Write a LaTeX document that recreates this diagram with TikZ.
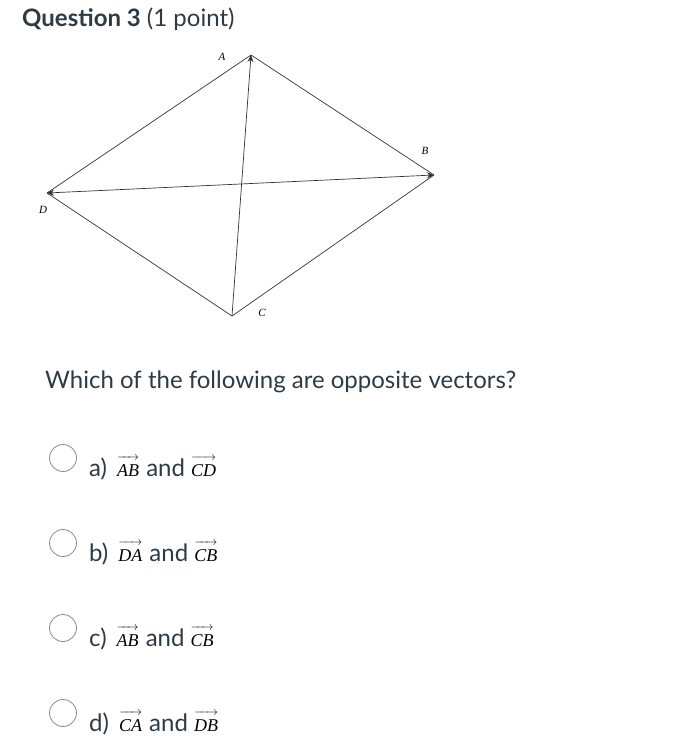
\documentclass[tikz,border=0pt]{standalone}
\usepackage{fontspec}
\setmainfont{Lato}
\newfontfamily\serifit{Liberation Serif}
\usetikzlibrary{arrows.meta}
\definecolor{ink}{HTML}{2D3B45}
\definecolor{ring}{HTML}{8A8A8A}
\tikzset{
  edge/.style={line width=0.7pt, draw=black!80},
  tip/.style={-{Stealth[length=7pt,width=6pt]}},
  vlab/.style={font=\serifit\itshape\fontsize{11}{11}\selectfont, inner sep=0pt},
  radio/.style={circle, draw=ring, line width=0.8pt, minimum size=27pt, inner sep=0pt, fill=white},
  opt/.style={anchor=base west, inner sep=0pt, text=ink, font=\fontsize{24}{28}\selectfont},
}
\newsavebox\vecbox
\newcommand{\vecv}[1]{\sbox\vecbox{\fontsize{18}{18}\selectfont\serifit\itshape\color{black}#1}%
  \vbox{\offinterlineskip\hbox to\wd\vecbox{\fontsize{13}{13}\selectfont\color{black}\rightarrowfill}\kern4pt\box\vecbox}}
\newcommand{\andv}{\hspace{1pt} and \hspace{0pt}}
\begin{document}
\begin{tikzpicture}[x=1pt,y=-1pt]
\useasboundingbox (0,0) rectangle (693,750);
% title
\node[anchor=base west, inner sep=0pt, text=ink, font=\fontsize{24}{28}\selectfont] (title) at (22,26) {\textbf{Question 3} (1 point)};
% diagram
\coordinate (A) at (251,55);
\coordinate (B) at (434,175);
\coordinate (C) at (232,316);
\coordinate (D) at (47,193);
\draw[edge] (A) -- (B);
\draw[edge] (B) -- (C);
\draw[edge] (C) -- (D);
\draw[edge] (D) -- (A);
\draw[edge, tip] (C) -- (A);
\draw[edge, {Stealth[length=7pt,width=6pt]}-{Stealth[length=7pt,width=6pt]}] (D) -- (B);
\node[vlab] (la) at (222,57) {A};
\node[vlab] (lb) at (425,151) {B};
\node[vlab] (lc) at (262,313) {C};
\node[vlab] (ld) at (43,210) {D};
% question
\node[opt] (q) at (45,388) {Which of the following are opposite vectors?};
% options
\node[radio] (ra) at (63,458) {};
\node[opt] (oa) at (89,476) {a)\hspace{10pt}\vecv{AB}\andv\vecv{CD}};
\node[radio] (rb) at (63,543) {};
\node[opt] (ob) at (89,561) {b)\hspace{10pt}\vecv{DA}\andv\vecv{CB}};
\node[radio] (rc) at (63,628) {};
\node[opt] (oc) at (89,646) {c)\hspace{10pt}\vecv{AB}\andv\vecv{CB}};
\node[radio] (rd) at (63,713) {};
\node[opt] (od) at (89,731) {d)\hspace{10pt}\vecv{CA}\andv\vecv{DB}};
\end{tikzpicture}
\end{document}
